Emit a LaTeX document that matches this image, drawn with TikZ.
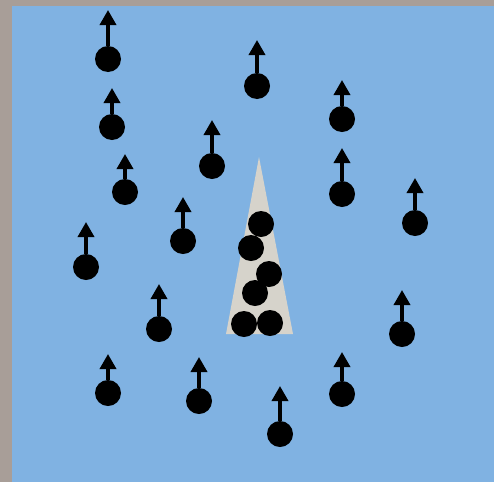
\documentclass[tikz,border=0pt]{standalone}
\usepackage{tikz}
\usetikzlibrary{arrows.meta}

\definecolor{frame}{RGB}{168,158,152}
\definecolor{water}{RGB}{128,178,226}
\definecolor{cone}{RGB}{214,211,203}

\begin{document}
\begin{tikzpicture}[
  x=1pt, y=-1pt,
  >={Triangle[width=16pt,length=15pt]},
  particle/.style={circle, fill=black, minimum size=26pt, inner sep=0pt},
  velocity/.style={->, line width=3.5pt}
]
\useasboundingbox (0,0) rectangle (494,482);
\fill[frame] (0,0) rectangle (494,482);
\fill[water] (12,6) rectangle (494,482);
\fill[cone] (259,157) -- (226,334) -- (293,334) -- cycle;

% moving particles: x / y / arrow tip
\foreach \x/\y/\t [count=\i] in {108/59/10, 257/86/40, 112/127/88, 342/119/80,
    212/166/120, 342/194/148, 125/192/154, 415/223/178, 183/241/197,
    86/267/222, 159/329/284, 402/334/290, 108/393/354, 199/401/357,
    342/394/352, 280/434/386}{
  \node[particle] (p\i) at (\x,\y) {};
  \coordinate (v\i) at (\x,\t);
  \draw[velocity] (p\i) -- (v\i);
}

% particles at rest in the cone
\foreach \x/\y [count=\i] in {261/224, 251/248, 269/274, 255/293, 244/324, 270/323}
  \node[particle] (r\i) at (\x,\y) {};
\end{tikzpicture}
\end{document}
